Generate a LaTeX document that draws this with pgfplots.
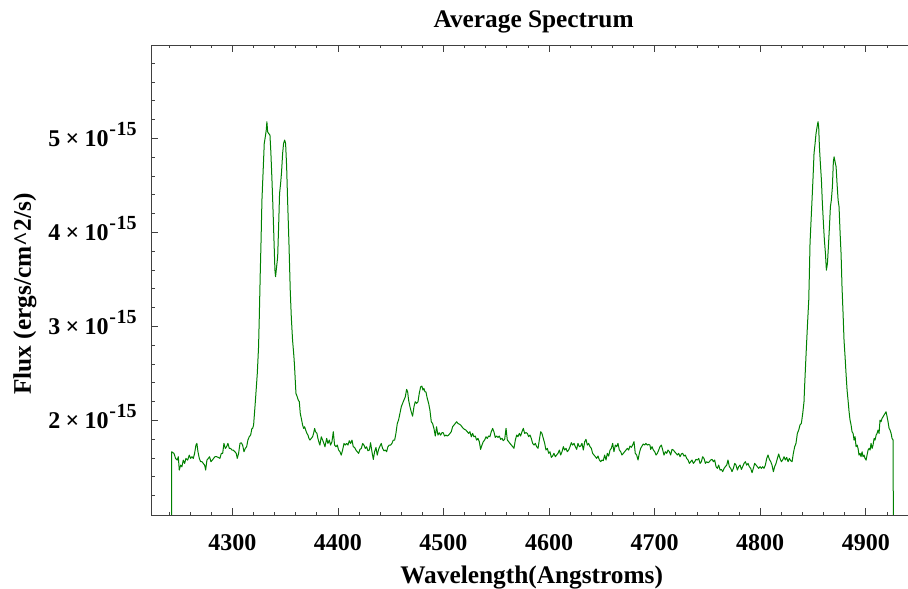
\documentclass[border=0pt]{standalone}
\usepackage{pgfplots}
\pgfplotsset{compat=1.18}
\usepackage{fontspec}
\setmainfont{Liberation Serif}
\definecolor{specgreen}{RGB}{0,128,0}
\newcommand{\sci}[1]{#1\kern4pt×\kern4pt10\kern0.5pt\raisebox{0.45em}{\fontsize{15}{15}\selectfont\bfseries -\kern0.5pt15}}
\begin{document}
\begin{tikzpicture}
\useasboundingbox (0,0) rectangle (681pt,441.75pt);
\begin{axis}[
  at={(113.625pt,55.5pt)}, anchor=south west,
  scale only axis,
  width=567.375pt, height=352.5pt,
  xmin=4223.5, xmax=4940.0,
  ymin=0.993, ymax=5.993,
  axis x line*=box, axis y line*=left,
  xtick={4300,4400,4500,4600,4700,4800,4900},
  xticklabels={4300,4400,4500,4600,4700,4800,4900},
  minor xtick={4240,4260,4280,4320,4340,4360,4380,4420,4440,4460,4480,4520,4540,4560,4580,4620,4640,4660,4680,4720,4740,4760,4780,4820,4840,4860,4880,4920},
  ytick={2,3,4,5},
  yticklabels={\sci{2},\sci{3},\sci{4},\sci{5}},
  minor ytick={1.2,1.4,1.6,1.8,2.2,2.4,2.6,2.8,3.2,3.4,3.6,3.8,4.2,4.4,4.6,4.8,5.2,5.4,5.6,5.8},
  major tick length=5pt, minor tick length=2.6pt,
  tick style={black!75, line width=0.5pt},
  axis line style={black!75, line width=0.6pt},
  tick align=inside,
  font=\fontsize{18}{22}\selectfont\bfseries,
  xticklabel style={anchor=base, yshift=-27pt, inner sep=0pt},
  yticklabel style={anchor=base east, xshift=-10.9pt, yshift=-6.2pt, inner sep=0pt},
  title={Average Spectrum},
  every axis title/.style={at={(rel axis cs:0.5,1)}, xshift=2.9pt, anchor=base, yshift=13.5pt, inner sep=0pt, font=\fontsize{19}{23}\selectfont\bfseries},
  xlabel={Wavelength(Angstroms)},
  every axis x label/.style={at={(rel axis cs:0.5,0)}, xshift=1.4pt, anchor=base, yshift=-51.75pt, inner sep=0pt, font=\fontsize{19}{23}\selectfont\bfseries},
  ylabel={Flux (ergs/cm\textasciicircum 2/s)},
  every axis y label/.style={at={(rel axis cs:0,0.47)}, xshift=-90.4pt, rotate=90, anchor=base, inner sep=0pt, font=\fontsize{19}{23}\selectfont\bfseries},
  clip=true,
]
\addplot[specgreen, line width=0.75pt, line join=round] table {
x y
4242.5 0.5
4242.6 1.666
4244.8 1.648
4246.3 1.595
4247.9 1.577
4248.9 1.613
4249.8 1.471
4251.1 1.524
4252.3 1.506
4253.6 1.577
4254.9 1.542
4256.1 1.595
4257.7 1.577
4259.3 1.630
4260.5 1.595
4261.8 1.613
4263.1 1.595
4264.3 1.648
4265.6 1.737
4266.5 1.755
4267.5 1.666
4268.8 1.595
4270.0 1.560
4271.3 1.560
4272.5 1.542
4273.8 1.524
4274.8 1.471
4276.0 1.577
4277.3 1.595
4278.5 1.613
4279.8 1.560
4281.1 1.577
4282.3 1.595
4283.6 1.613
4285.2 1.613
4286.7 1.606
4288.3 1.595
4289.6 1.648
4290.9 1.648
4292.1 1.755
4293.4 1.701
4294.6 1.719
4295.9 1.755
4297.2 1.701
4298.4 1.701
4299.7 1.684
4300.9 1.684
4302.5 1.666
4303.8 1.648
4304.7 1.595
4306.0 1.648
4307.3 1.755
4308.5 1.762
4309.8 1.737
4311.1 1.666
4312.3 1.701
4313.6 1.719
4314.8 1.790
4316.1 1.826
4317.4 1.843
4318.6 1.914
4319.3 1.914
4320.2 1.950
4321.5 2.145
4322.4 2.287
4323.7 2.499
4324.9 2.783
4325.6 3.102
4326.5 3.563
4327.2 3.882
4328.1 4.343
4329.4 4.698
4330.3 4.946
4331.3 5.017
4332.2 5.088
4332.8 5.177
4333.5 5.070
4334.4 5.052
4335.7 5.035
4336.6 4.840
4337.6 4.556
4338.5 4.272
4339.5 3.918
4340.4 3.598
4341.0 3.528
4342.0 3.634
4343.0 3.740
4343.9 4.060
4344.8 4.414
4345.8 4.521
4346.7 4.645
4347.7 4.840
4348.6 4.946
4349.6 4.982
4350.5 4.946
4351.5 4.698
4352.4 4.343
4353.7 3.882
4354.9 3.386
4355.9 3.102
4357.1 2.854
4358.4 2.677
4359.0 2.570
4360.3 2.287
4361.3 2.258
4362.5 2.216
4363.5 2.198
4364.4 2.074
4365.7 2.003
4366.6 1.950
4367.6 1.914
4368.5 1.932
4369.5 1.897
4370.7 1.861
4371.7 1.843
4372.6 1.808
4373.6 1.790
4374.8 1.808
4376.1 1.826
4377.0 1.861
4378.0 1.914
4378.9 1.879
4380.2 1.861
4381.1 1.808
4382.4 1.755
4383.0 1.737
4384.3 1.825
4385.6 1.790
4386.8 1.754
4387.8 1.719
4389.4 1.808
4390.6 1.754
4391.9 1.790
4393.1 1.737
4394.4 1.772
4395.7 1.879
4396.9 1.737
4398.2 1.719
4399.5 1.737
4400.7 1.684
4402.0 1.666
4403.2 1.630
4404.5 1.684
4405.8 1.754
4407.0 1.737
4408.3 1.754
4409.6 1.737
4410.8 1.783
4412.1 1.754
4413.4 1.790
4414.6 1.719
4415.9 1.712
4417.1 1.684
4418.4 1.666
4419.7 1.648
4420.9 1.691
4422.2 1.701
4423.5 1.754
4424.7 1.737
4426.0 1.701
4427.2 1.719
4428.5 1.676
4429.8 1.684
4431.0 1.762
4432.3 1.666
4433.6 1.584
4434.8 1.666
4436.1 1.712
4437.3 1.630
4438.6 1.691
4439.9 1.726
4441.1 1.754
4442.4 1.701
4443.7 1.676
4444.9 1.684
4446.2 1.666
4447.4 1.719
4448.7 1.737
4450.0 1.737
4451.2 1.754
4452.5 1.790
4453.8 1.790
4455.0 1.861
4456.3 1.967
4457.5 2.003
4458.8 2.074
4460.1 2.145
4461.3 2.180
4462.6 2.216
4463.9 2.251
4465.1 2.329
4466.1 2.304
4467.0 2.216
4468.3 2.145
4469.5 2.091
4470.8 2.045
4472.1 2.145
4473.3 2.198
4474.6 2.180
4475.9 2.198
4477.1 2.286
4478.4 2.357
4479.6 2.364
4480.6 2.322
4481.5 2.340
4482.5 2.304
4483.4 2.304
4484.7 2.233
4486.0 2.180
4487.2 2.109
4488.5 1.985
4489.7 1.967
4491.0 1.914
4492.3 1.833
4493.5 1.932
4494.8 1.843
4496.1 1.868
4497.3 1.843
4498.6 1.868
4499.8 1.868
4501.1 1.833
4502.4 1.843
4503.6 1.833
4504.9 1.843
4506.2 1.861
4507.4 1.879
4508.7 1.932
4510.0 1.950
4511.2 1.967
4512.5 1.985
4513.7 1.967
4515.0 1.960
4516.3 1.950
4517.5 1.932
4518.8 1.914
4520.1 1.903
4521.3 1.896
4522.6 1.879
4523.9 1.861
4525.1 1.879
4526.4 1.825
4527.6 1.861
4528.9 1.825
4530.2 1.833
4531.4 1.790
4532.7 1.808
4534.0 1.772
4535.2 1.691
4536.5 1.737
4537.7 1.772
4539.0 1.790
4540.3 1.825
4541.5 1.808
4542.8 1.833
4544.0 1.825
4545.3 1.879
4546.6 1.914
4547.8 1.879
4549.1 1.818
4550.4 1.833
4551.6 1.818
4552.9 1.833
4554.2 1.798
4555.5 1.808
4556.7 1.783
4558.0 1.798
4559.3 1.915
4560.5 1.790
4561.8 1.773
4563.0 1.755
4564.3 1.737
4565.6 1.720
4566.8 1.702
4568.1 1.790
4569.4 1.844
4570.6 1.826
4571.9 1.861
4573.1 1.833
4574.4 1.879
4575.7 1.915
4576.9 1.861
4578.2 1.869
4579.5 1.861
4580.7 1.826
4582.0 1.844
4583.2 1.808
4584.5 1.755
4585.8 1.737
4587.0 1.755
4588.3 1.720
4589.6 1.702
4590.8 1.790
4592.1 1.879
4593.3 1.861
4594.6 1.808
4595.9 1.755
4597.1 1.684
4598.4 1.702
4599.7 1.649
4600.9 1.666
4602.2 1.606
4603.4 1.620
4604.7 1.649
4606.0 1.613
4607.2 1.631
4608.5 1.649
4609.8 1.684
4611.0 1.631
4612.3 1.666
4613.6 1.720
4614.8 1.684
4616.1 1.702
4617.3 1.666
4618.6 1.684
4619.9 1.720
4621.1 1.762
4622.4 1.737
4623.7 1.755
4624.9 1.720
4626.2 1.691
4627.4 1.755
4628.7 1.720
4630.0 1.727
4631.2 1.755
4632.5 1.684
4633.8 1.773
4635.0 1.798
4636.3 1.737
4637.5 1.755
4638.8 1.720
4640.1 1.702
4641.3 1.649
4642.6 1.631
4643.9 1.613
4645.1 1.595
4646.4 1.620
4647.7 1.578
4648.9 1.560
4650.2 1.578
4651.4 1.571
4652.7 1.631
4654.0 1.578
4655.2 1.649
4656.5 1.620
4657.8 1.684
4659.0 1.702
4660.3 1.755
4661.5 1.666
4662.8 1.737
4664.1 1.720
4665.3 1.755
4666.6 1.684
4667.9 1.666
4669.1 1.631
4670.4 1.649
4671.6 1.666
4672.9 1.684
4674.2 1.702
4675.4 1.684
4676.7 1.727
4678.0 1.713
4679.2 1.737
4680.5 1.773
4681.7 1.649
4683.0 1.631
4684.3 1.578
4685.5 1.649
4686.8 1.702
4688.1 1.727
4689.3 1.748
4690.6 1.737
4691.8 1.755
4693.1 1.737
4694.4 1.744
4695.6 1.737
4696.3 1.691
4697.6 1.720
4698.8 1.684
4700.1 1.666
4701.4 1.631
4702.6 1.649
4703.9 1.684
4705.1 1.720
4706.4 1.737
4707.7 1.684
4708.9 1.631
4710.2 1.666
4711.5 1.649
4712.7 1.684
4714.0 1.666
4715.2 1.631
4716.5 1.691
4717.8 1.684
4719.0 1.666
4720.3 1.649
4721.6 1.631
4722.8 1.649
4724.1 1.613
4725.3 1.642
4726.6 1.649
4727.9 1.620
4729.1 1.631
4730.4 1.595
4731.7 1.578
4732.9 1.542
4734.2 1.560
4735.4 1.578
4736.7 1.542
4738.0 1.560
4739.2 1.585
4740.5 1.578
4741.8 1.595
4743.0 1.542
4744.3 1.560
4745.5 1.613
4746.8 1.595
4748.1 1.542
4749.3 1.560
4750.6 1.549
4751.9 1.560
4753.1 1.578
4754.4 1.585
4755.7 1.560
4756.9 1.578
4758.2 1.507
4759.4 1.489
4760.7 1.524
4762.0 1.471
4763.2 1.478
4764.5 1.454
4765.8 1.489
4767.0 1.507
4768.3 1.524
4769.5 1.578
4770.8 1.507
4772.1 1.489
4773.3 1.454
4774.6 1.489
4775.9 1.542
4777.1 1.524
4778.4 1.471
4779.6 1.507
4780.9 1.524
4782.2 1.478
4783.4 1.507
4784.7 1.542
4786.0 1.560
4787.2 1.524
4788.5 1.542
4789.7 1.507
4791.0 1.489
4792.3 1.443
4793.5 1.489
4794.8 1.542
4796.1 1.524
4797.3 1.507
4798.6 1.489
4799.9 1.507
4801.1 1.489
4802.4 1.507
4803.6 1.489
4804.9 1.524
4806.2 1.595
4807.4 1.631
4808.7 1.585
4810.0 1.560
4811.2 1.524
4812.5 1.454
4813.7 1.507
4815.0 1.542
4816.3 1.595
4817.5 1.642
4818.8 1.595
4820.1 1.560
4821.3 1.578
4822.6 1.613
4823.8 1.578
4825.1 1.606
4826.4 1.560
4827.6 1.595
4828.9 1.571
4830.2 1.560
4831.4 1.649
4832.7 1.720
4833.9 1.755
4835.2 1.861
4836.5 1.897
4837.7 1.950
4839.0 1.968
4840.3 2.074
4841.5 2.198
4842.2 2.393
4843.5 2.712
4844.7 2.996
4846.0 3.279
4846.6 3.563
4847.2 3.882
4848.2 4.130
4849.1 4.343
4850.1 4.591
4851.0 4.840
4852.0 4.946
4852.9 5.052
4853.9 5.123
4854.8 5.177
4855.4 5.123
4856.1 4.911
4857.0 4.733
4858.0 4.556
4858.9 4.308
4859.9 4.095
4860.8 3.918
4861.8 3.776
4862.7 3.598
4863.7 3.669
4864.6 3.847
4865.6 4.060
4866.5 4.272
4867.4 4.343
4868.4 4.485
4869.3 4.751
4870.0 4.804
4870.9 4.751
4871.9 4.698
4872.8 4.520
4873.8 4.343
4874.7 4.272
4875.7 3.989
4876.6 3.776
4877.5 3.421
4878.5 3.138
4879.4 2.854
4880.4 2.677
4881.3 2.499
4882.3 2.322
4883.2 2.216
4884.2 2.091
4885.1 2.003
4886.1 1.950
4887.0 1.879
4888.0 1.861
4888.9 1.790
4889.9 1.826
4890.8 1.719
4891.8 1.737
4892.7 1.701
4893.6 1.630
4894.6 1.648
4895.5 1.613
4896.5 1.666
4897.4 1.613
4898.4 1.630
4899.3 1.595
4900.3 1.577
4901.2 1.630
4902.2 1.684
4903.1 1.701
4904.1 1.684
4905.0 1.755
4906.0 1.701
4906.9 1.737
4907.9 1.808
4908.8 1.790
4909.8 1.843
4910.7 1.861
4911.6 1.897
4912.6 1.861
4913.5 2.003
4914.5 1.985
4915.4 2.021
4916.4 2.038
4917.3 2.056
4918.3 2.074
4919.2 2.091
4920.2 2.038
4921.1 1.985
4922.1 1.914
4923.0 1.897
4924.0 1.861
4924.9 1.808
4925.9 1.790
4926.2 0.5
};
\end{axis}
\end{tikzpicture}
\end{document}
